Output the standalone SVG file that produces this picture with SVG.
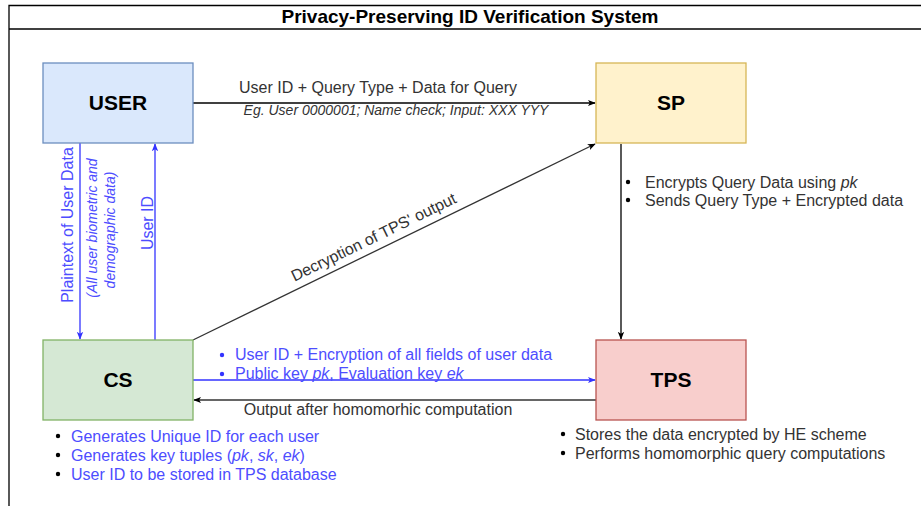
<svg xmlns="http://www.w3.org/2000/svg" width="921" height="506" viewBox="0 0 921 506">
<style>
text{font-family:"Liberation Sans",Arial,sans-serif}
.node{font-size:21px;font-weight:bold;fill:#000;text-anchor:middle}
.lbl{font-size:16px;fill:#333}
.blue{font-size:16px;fill:#4d4dff}
.it{font-style:italic}
.small{font-size:14px}
.blk{stroke:#000;stroke-width:1.3;fill:none}
.gry{stroke:#333;stroke-width:1.3;fill:none}
.bl{stroke:#3333ff;stroke-width:1.3;fill:none}
.dot{fill:#000}
</style>
<defs>
<marker id="ah" viewBox="0 0 10 10" refX="9" refY="5" markerWidth="8" markerHeight="8" markerUnits="userSpaceOnUse" orient="auto"><path d="M0,1 L10,5 L0,9 L2.5,5 Z" fill="#000"/></marker>
<marker id="ahb" viewBox="0 0 10 10" refX="9" refY="5" markerWidth="8" markerHeight="8" markerUnits="userSpaceOnUse" orient="auto"><path d="M0,1 L10,5 L0,9 L2.5,5 Z" fill="#3333ff"/></marker>
</defs>
<rect width="921" height="506" fill="#fff"/>
<g id="frame">
<path d="M9,506 V5.5 H925" stroke="#000" stroke-width="1.3" fill="none"/>
<line x1="9" y1="29" x2="925" y2="29" stroke="#000" stroke-width="1.3"/>
<text x="470" y="23" text-anchor="middle" font-size="19" font-weight="bold" fill="#000">Privacy-Preserving ID Verification System</text>
</g>
<g id="connectors">
<line class="blk" x1="193" y1="103" x2="595" y2="103" marker-end="url(#ah)"/>
<text class="lbl" x="378" y="93" text-anchor="middle">User ID + Query Type + Data for Query</text>
<text class="lbl it small" x="396" y="115" text-anchor="middle">Eg. User 0000001; Name check; Input: XXX YYY</text>
<line class="bl" x1="80" y1="143" x2="80" y2="339" marker-end="url(#ahb)"/>
<text class="blue" transform="translate(73,225) rotate(-90)" text-anchor="middle">Plaintext of User Data</text>
<text class="blue it small" transform="translate(97,228) rotate(-90)" text-anchor="middle">(All user biometric and</text>
<text class="blue it small" transform="translate(115,230) rotate(-90)" text-anchor="middle">demographic data)</text>
<line class="bl" x1="155" y1="340" x2="155" y2="144" marker-end="url(#ahb)"/>
<text class="blue" transform="translate(153,223) rotate(-90)" text-anchor="middle">User ID</text>
<line class="gry" x1="193" y1="340" x2="595" y2="144" marker-end="url(#ah)"/>
<text class="lbl" transform="translate(376,242) rotate(-26)" text-anchor="middle">Decryption of TPS' output</text>
<line class="blk" x1="621" y1="144" x2="621" y2="339" marker-end="url(#ah)"/>
<circle class="dot" cx="628" cy="182" r="2.2"/>
<text class="lbl" x="645" y="188">Encrypts Query Data using <tspan font-style="italic">pk</tspan></text>
<circle class="dot" cx="628" cy="200" r="2.2"/>
<text class="lbl" x="645" y="206">Sends Query Type + Encrypted data</text>
<line class="bl" x1="193" y1="380" x2="595" y2="380" marker-end="url(#ahb)"/>
<circle cx="222" cy="355" r="2.2" fill="#3333ff"/>
<text class="blue" x="235" y="360">User ID + Encryption of all fields of user data</text>
<circle cx="222" cy="374" r="2.2" fill="#3333ff"/>
<text class="blue" x="235" y="379">Public key <tspan font-style="italic">pk</tspan>, Evaluation key <tspan font-style="italic">ek</tspan></text>
<line class="gry" x1="596" y1="400" x2="194" y2="400" marker-end="url(#ah)"/>
<text class="lbl" x="378" y="415" text-anchor="middle">Output after homomorhic computation</text>
</g>
<g id="USER">
<rect x="43" y="63" width="150" height="80" fill="#dae8fc" stroke="#6c8ebf" stroke-width="1.3"/>
<text class="node" x="118" y="110">USER</text>
</g>
<g id="SP">
<rect x="596" y="63" width="150" height="80" fill="#fff2cc" stroke="#d6b656" stroke-width="1.3"/>
<text class="node" x="671" y="110">SP</text>
</g>
<g id="CS">
<rect x="43" y="340" width="150" height="80" fill="#d5e8d4" stroke="#82b366" stroke-width="1.3"/>
<text class="node" x="118" y="387">CS</text>
<circle class="dot" cx="58" cy="436" r="2.2"/>
<text class="blue" x="71" y="442">Generates Unique ID for each user</text>
<circle class="dot" cx="58" cy="455" r="2.2"/>
<text class="blue" x="71" y="461">Generates key tuples (<tspan font-style="italic">pk</tspan>, <tspan font-style="italic">sk</tspan>, <tspan font-style="italic">ek</tspan>)</text>
<circle class="dot" cx="58" cy="474" r="2.2"/>
<text class="blue" x="71" y="480">User ID to be stored in TPS database</text>
</g>
<g id="TPS">
<rect x="596" y="340" width="150" height="80" fill="#f8cecc" stroke="#b85450" stroke-width="1.3"/>
<text class="node" x="671" y="387">TPS</text>
<circle class="dot" cx="563" cy="434" r="2.2"/>
<text class="lbl" x="575" y="440">Stores the data encrypted by HE scheme</text>
<circle class="dot" cx="563" cy="453" r="2.2"/>
<text class="lbl" x="575" y="459">Performs homomorphic query computations</text>
</g>
</svg>
